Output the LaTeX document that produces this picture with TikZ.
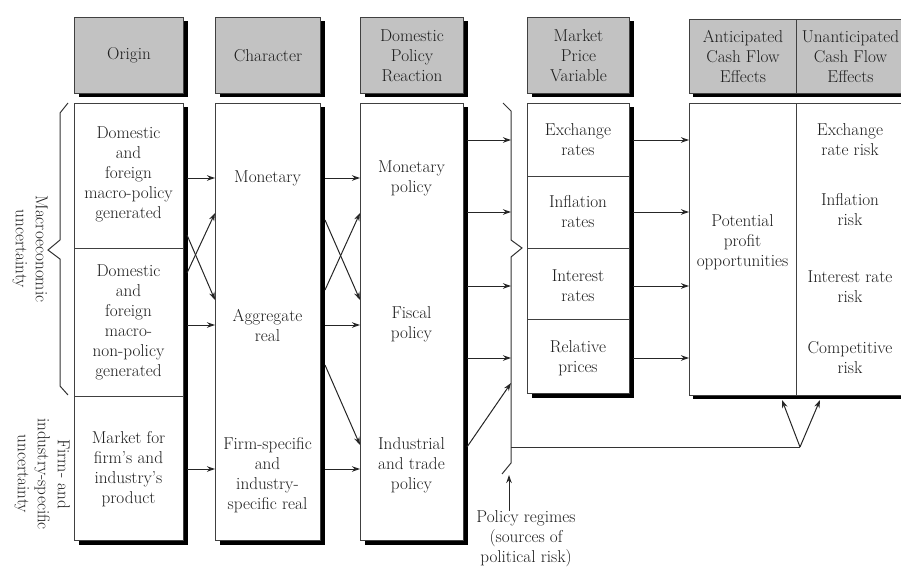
\documentclass[tikz,border=0pt]{standalone}
\usetikzlibrary{arrows.meta,shadows,calc}
\definecolor{hdrgray}{HTML}{C2C2C2}
\definecolor{linec}{HTML}{404040}
\definecolor{txtc}{HTML}{1E1E1E}
\tikzset{
  myfont/.style={font=\fontsize{17.2}{20}\selectfont},
  blackshadow/.style={drop shadow={fill=black,opacity=1,shadow xshift=4pt,shadow yshift=-4pt}},
  hdr/.style={draw=linec,fill=hdrgray,line width=1pt,align=center,text=txtc,myfont,inner sep=0pt,anchor=north west,blackshadow},
  hdrcell/.style={draw=linec,fill=hdrgray,line width=1pt,align=center,text=txtc,myfont,inner sep=0pt,anchor=north west},
  colbox/.style={draw=linec,fill=white,line width=1pt,inner sep=0pt,anchor=north west,blackshadow},
  cell/.style={draw=linec,line width=1pt,inner sep=0pt,align=center,text=txtc,myfont,anchor=north west},
  txt/.style={align=center,text=txtc,myfont,inner sep=0pt},
  arr/.style={-{Stealth[length=8pt,width=5.5pt]},line width=1pt,draw=black!85},
  ln/.style={line width=1pt,draw=black!80},
}
\begin{document}
\begin{tikzpicture}[x=1pt,y=-1pt]
\useasboundingbox (0,0) rectangle (901,567);
% ---------- headers ----------
\node[hdr,minimum width=109pt,minimum height=76pt] (hOrig) at (74,17) {Origin};
\node[hdr,minimum width=105pt,minimum height=76pt] (hChar) at (215,17) {Character};
\node[hdr,minimum width=103pt,minimum height=76pt] (hDom) at (360,17) {Domestic\\Policy\\Reaction};
\node[hdr,minimum width=102pt,minimum height=76pt] (hMkt) at (527,17) {Market\\Price\\Variable};
\fill[black] (693,23) rectangle (930,97);
\node[hdrcell,minimum width=107pt,minimum height=74pt] (hAnt) at (689,19) {Anticipated\\Cash Flow\\Effects};
\node[hdrcell,minimum width=108pt,minimum height=74pt] (hUna) at (796,19) {Unanticipated\\Cash Flow\\Effects};
% ---------- origin column ----------
\node[colbox,minimum width=109pt,minimum height=437pt] (origB) at (74,103) {};
\node[cell,minimum width=109pt,minimum height=145pt] (o1) at (74,103) {};
\node[cell,minimum width=109pt,minimum height=148pt] (o2) at (74,248) {};
\node[cell,minimum width=109pt,minimum height=144pt] (o3) at (74,396) {};
\node[txt] (o1t) at (128.5,174) {Domestic\\and\\foreign\\macro-policy\\generated};
\node[txt] (o2t) at (128.5,322) {Domestic\\and\\foreign\\macro-\\non-policy\\generated};
\node[txt] (o3t) at (128.5,469) {Market for\\firm's and\\industry's\\product};
% ---------- character column ----------
\node[colbox,minimum width=105pt,minimum height=437pt] (charB) at (215,103) {};
\node[txt] (cMon) at (267.5,178) {Monetary};
\node[txt] (cAgg) at (267.5,325) {Aggregate\\real};
\node[txt] (cFirm) at (267.5,475) {Firm-specific\\and\\industry-\\specific real};
% ---------- domestic policy column ----------
\node[colbox,minimum width=103pt,minimum height=437pt] (domB) at (360,103) {};
\node[txt] (dMon) at (411.5,178) {Monetary\\policy};
\node[txt] (dFis) at (411.5,324) {Fiscal\\policy};
\node[txt] (dInd) at (411.5,465) {Industrial\\and trade\\policy};
% ---------- market price column ----------
\node[colbox,minimum width=102pt,minimum height=290pt] (mktB) at (527,103) {};
\node[cell,minimum width=102pt,minimum height=73pt] (m1) at (527,103) {};
\node[cell,minimum width=102pt,minimum height=72pt] (m2) at (527,176) {};
\node[cell,minimum width=102pt,minimum height=71pt] (m3) at (527,248) {};
\node[cell,minimum width=102pt,minimum height=74pt] (m4) at (527,319) {};
\node[txt] (mt1) at (578,140) {Exchange\\rates};
\node[txt] (mt2) at (578,212) {Inflation\\rates};
\node[txt] (mt3) at (578,286) {Interest\\rates};
\node[txt] (mt4) at (578,358) {Relative\\prices};
% ---------- cash flow columns ----------
\fill[black] (693,107) rectangle (930,399);
\node[cell,fill=white,minimum width=107pt,minimum height=292pt] (cA) at (689,103) {};
\node[cell,fill=white,minimum width=108pt,minimum height=292pt] (cU) at (796,103) {};
\node[txt] (pot) at (742.5,242) {Potential\\profit\\opportunities};
\node[txt] (u1) at (850,140) {Exchange\\rate risk};
\node[txt] (u2) at (850,210) {Inflation\\risk};
\node[txt] (u3) at (850,287) {Interest rate\\risk};
\node[txt] (u4) at (850,358) {Competitive\\risk};
% ---------- side labels ----------
\node[txt,rotate=-90] (macroL) at (30,249) {Macroeconomic\\uncertainty};
\node[txt,rotate=-90] (firmL) at (42,474) {Firm- and\\industry-specific\\uncertainty};
\node[txt] (pol) at (526,539) {Policy regimes\\(sources of\\political risk)};
% ---------- reference x positions ----------
\coordinate (oR) at (187,0);
\coordinate (cR) at (325,0);
\coordinate (dR) at (467,0);
\coordinate (bX) at (511,0);
\coordinate (mR) at (633,0);
\coordinate (vtip) at (800,447);
\coordinate (polTip) at (509,475);
% ---------- braces ----------
\draw[ln] (68,103) -- (60,113) -- (60,240) -- (48,250) -- (60,259) -- (60,386) -- (68,395);
\draw[ln] (503,103) -- (511,111) -- (511,240) -- (522,248) -- (511,257) -- (511,463) -- (502,474);
% ---------- connectors: origin -> character ----------
\draw[arr] (oR |- cMon) -- (charB.west |- cMon);
\draw[arr] (oR |- cAgg) -- (charB.west |- cAgg);
\draw[arr] (oR |- o3t) -- (charB.west |- o3t);
\draw[arr] (oR |- 0,235) -- (charB.west |- 0,300);
\draw[arr] (oR |- 0,273) -- (charB.west |- 0,213);
% ---------- character -> domestic ----------
\draw[arr] (cR |- cMon) -- (domB.west |- cMon);
\draw[arr] (cR |- cAgg) -- (domB.west |- cAgg);
\draw[arr] (cR |- o3t) -- (domB.west |- o3t);
\draw[arr] (cR |- 0,220) -- (domB.west |- 0,300);
\draw[arr] (cR |- 0,290) -- (domB.west |- 0,213);
\draw[arr] (cR |- 0,365) -- (domB.west |- 0,445);
% ---------- domestic -> market brace ----------
\draw[arr] (dR |- mt1) -- (bX |- mt1);
\draw[arr] (dR |- mt2) -- (bX |- mt2);
\draw[arr] (dR |- mt3) -- (bX |- mt3);
\draw[arr] (dR |- mt4) -- (bX |- mt4);
\draw[arr] (dR |- 0,447) -- (bX |- 0,383);
% ---------- market -> cash flow ----------
\draw[arr] (mR |- mt1) -- (cA.west |- mt1);
\draw[arr] (mR |- mt2) -- (cA.west |- mt2);
\draw[arr] (mR |- mt3) -- (cA.west |- mt3);
\draw[arr] (mR |- mt4) -- (cA.west |- mt4);
% ---------- policy regimes ----------
\draw[ln] (bX |- vtip) -- (vtip);
\draw[arr] (vtip) -- (782,400);
\draw[arr] (vtip) -- (820,400);
\draw[arr] (polTip |- pol.north) -- (polTip);
\end{tikzpicture}
\end{document}
